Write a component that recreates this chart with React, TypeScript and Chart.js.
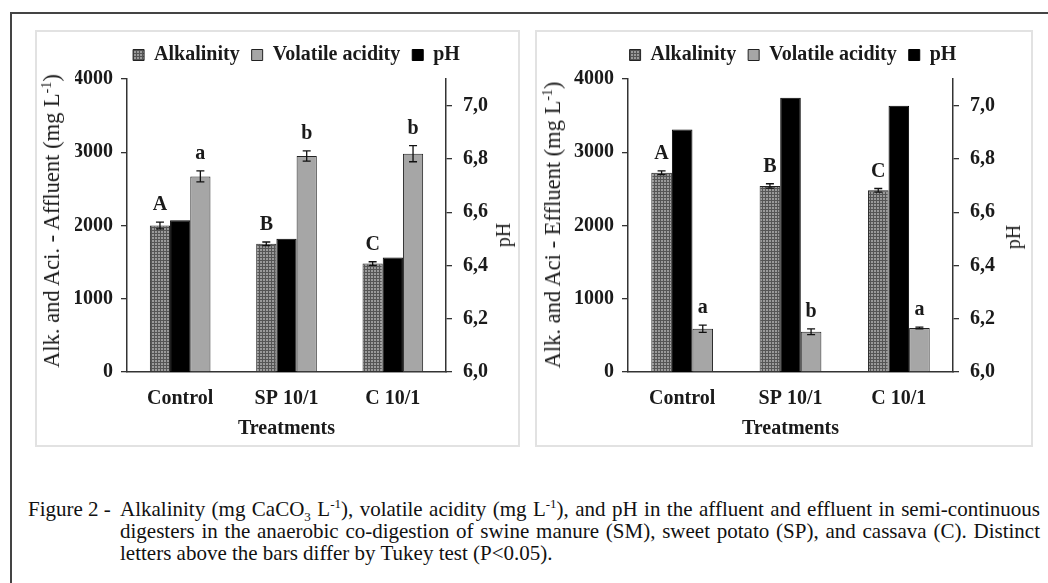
import React, { useEffect, useRef } from "react";
import { Chart, registerables } from "chart.js";
Chart.register(...registerables);

const SERIF = "'Liberation Serif', 'Times New Roman', serif";

const categories = ["Control", "SP 10/1", "C 10/1"];
const legendOrder = ["Alkalinity", "Volatile acidity", "pH"];

// Affluent (left panel)
const affAlkalinity = [2000, 1750, 1480];
const affAlkErr = [45, 25, 25];
const affVolatile = [2670, 2950, 2980];
const affVolErr = [75, 70, 110];
const affPH = [6.57, 6.5, 6.43];
const affAlkLetters = ["A", "B", "C"];
const affVolLetters = ["a", "b", "b"];

// Effluent (right panel)
const effAlkalinity = [2720, 2540, 2480];
const effAlkErr = [25, 30, 25];
const effVolatile = [590, 550, 600];
const effVolErr = [50, 40, 12];
const effPH = [6.91, 7.03, 7.0];
const effAlkLetters = ["A", "B", "C"];
const effVolLetters = ["a", "b", "a"];

const leftTicks = [0, 1000, 2000, 3000, 4000];
const phTicks = [6.0, 6.2, 6.4, 6.6, 6.8, 7.0];

function makePattern(): CanvasPattern | string {
  const c = document.createElement("canvas");
  c.width = 3;
  c.height = 3;
  const x = c.getContext("2d");
  if (!x) return "#888";
  x.fillStyle = "#9a9a9a";
  x.fillRect(0, 0, 3, 3);
  x.fillStyle = "#555555";
  x.fillRect(0, 0, 3, 1);
  x.fillRect(0, 0, 1, 3);
  return x.createPattern(c, "repeat") || "#888";
}

type PanelCfg = {
  alk: number[];
  alkErr: number[];
  vol: number[];
  volErr: number[];
  ph: number[];
  alkLetters: string[];
  volLetters: string[];
  padLeft: number;
  yWidth: number;
  y1Width: number;
};

const legendGap = {
  id: "legendGap",
  beforeLayout(chart: any) {
    const lg = chart.legend;
    if (lg && !lg._gapPatched) {
      const orig = lg.fit.bind(lg);
      lg.fit = () => {
        orig();
        lg.height += 4;
      };
      lg._gapPatched = true;
    }
  },
};

function makeAnnotPlugin(cfg: PanelCfg) {
  return {
    id: "annot",
    afterDatasetsDraw(chart: any) {
      const ctx: CanvasRenderingContext2D = chart.ctx;
      const y = chart.scales.y;
      const series = [
        { index: 0, values: cfg.alk, errors: cfg.alkErr, letters: cfg.alkLetters },
        { index: 2, values: cfg.vol, errors: cfg.volErr, letters: cfg.volLetters },
      ];
      ctx.save();
      series.forEach((s) => {
        const meta = chart.getDatasetMeta(s.index);
        meta.data.forEach((bar: any, i: number) => {
          const v = s.values[i];
          const e = s.errors[i];
          const top = y.getPixelForValue(v + e);
          const bot = y.getPixelForValue(v - e);
          ctx.strokeStyle = "#111";
          ctx.lineWidth = 1.3;
          ctx.beginPath();
          ctx.moveTo(bar.x, top);
          ctx.lineTo(bar.x, bot);
          ctx.moveTo(bar.x - 4, top);
          ctx.lineTo(bar.x + 4, top);
          ctx.moveTo(bar.x - 4, bot);
          ctx.lineTo(bar.x + 4, bot);
          ctx.stroke();
          ctx.fillStyle = "#1a1a1a";
          ctx.font = `bold 20px ${SERIF}`;
          ctx.textAlign = "center";
          ctx.textBaseline = "alphabetic";
          ctx.fillText(s.letters[i], bar.x, top - 12);
        });
      });
      ctx.restore();
    },
  };
}

function makeConfig(cfg: PanelCfg): any {
  const pattern = makePattern();
  const tickFont = { family: SERIF, size: 20, weight: "bold" as const };
  return {
    type: "bar",
    data: {
      labels: categories,
      datasets: [
        {
          label: "Alkalinity",
          data: cfg.alk,
          yAxisID: "y",
          backgroundColor: pattern,
          borderColor: "#222",
          borderWidth: 1,
        },
        {
          label: "pH",
          data: cfg.ph,
          yAxisID: "y1",
          backgroundColor: "#000",
          borderColor: "#000",
          borderWidth: 1,
        },
        {
          label: "Volatile acidity",
          data: cfg.vol,
          yAxisID: "y",
          backgroundColor: "#a6a6a6",
          borderColor: "#222",
          borderWidth: 1,
        },
      ],
    },
    options: {
      responsive: false,
      animation: false,
      devicePixelRatio: 1,
      categoryPercentage: 0.57,
      barPercentage: 1.0,
      layout: { padding: { left: cfg.padLeft, top: 1, right: 0, bottom: 0 } },
      plugins: {
        tooltip: { enabled: false },
        legend: {
          display: true,
          position: "top",
          align: "center",
          labels: {
            font: { family: SERIF, size: 20, weight: "bold" },
            color: "#1a1a1a",
            boxWidth: 11,
            boxHeight: 11,
            padding: 12,
            sort: (a: any, b: any) => legendOrder.indexOf(a.text) - legendOrder.indexOf(b.text),
          },
        },
      },
      scales: {
        x: {
          grid: { display: false, drawTicks: false },
          border: { display: true, color: "#333", width: 1.5 },
          ticks: { font: tickFont, color: "#1a1a1a", padding: 15 },
          title: {
            display: true,
            text: "Treatments",
            font: tickFont,
            color: "#1a1a1a",
            padding: { top: 0, bottom: 4 },
          },
          afterFit: (s: any) => {
            s.height = 73;
          },
        },
        y: {
          position: "left",
          min: 0,
          max: 4000,
          afterBuildTicks: (s: any) => {
            s.ticks = leftTicks.map((v) => ({ value: v }));
          },
          grid: { drawOnChartArea: false, drawTicks: true, tickLength: 6, color: "#333", lineWidth: 1.3 },
          border: { display: true, color: "#333", width: 1.5 },
          ticks: { font: tickFont, color: "#1a1a1a", padding: 8, callback: (v: any) => String(v) },
          afterFit: (s: any) => {
            s.width = cfg.yWidth;
          },
        },
        y1: {
          position: "right",
          min: 6.0,
          max: 7.1,
          afterBuildTicks: (s: any) => {
            s.ticks = phTicks.map((v) => ({ value: v }));
          },
          grid: { drawOnChartArea: false, drawTicks: true, tickLength: 6, color: "#333", lineWidth: 1.3 },
          border: { display: true, color: "#333", width: 1.5 },
          ticks: {
            font: tickFont,
            color: "#1a1a1a",
            padding: 11,
            callback: (v: any) => Number(v).toFixed(1).replace(".", ","),
          },
          afterFit: (s: any) => {
            s.width = cfg.y1Width;
          },
        },
      },
    },
    plugins: [legendGap, makeAnnotPlugin(cfg)],
  };
}

function RotLabel(props: { x: number; y: number; size: number; children: React.ReactNode }) {
  return (
    <div
      style={{
        position: "absolute",
        left: props.x,
        top: props.y,
        transform: "translate(-50%, -50%) rotate(-90deg)",
        whiteSpace: "nowrap",
        fontSize: props.size,
        lineHeight: "24px",
        color: "#1a1a1a",
      }}
    >
      {props.children}
    </div>
  );
}

export default function App() {
  const leftRef = useRef<HTMLCanvasElement>(null);
  const rightRef = useRef<HTMLCanvasElement>(null);

  useEffect(() => {
    const c1 = new Chart(
      leftRef.current as HTMLCanvasElement,
      makeConfig({
        alk: affAlkalinity,
        alkErr: affAlkErr,
        vol: affVolatile,
        volErr: affVolErr,
        ph: affPH,
        alkLetters: affAlkLetters,
        volLetters: affVolLetters,
        padLeft: 38,
        yWidth: 52,
        y1Width: 72,
      })
    );
    const c2 = new Chart(
      rightRef.current as HTMLCanvasElement,
      makeConfig({
        alk: effAlkalinity,
        alkErr: effAlkErr,
        vol: effVolatile,
        volErr: effVolErr,
        ph: effPH,
        alkLetters: effAlkLetters,
        volLetters: effVolLetters,
        padLeft: 18,
        yWidth: 73,
        y1Width: 78,
      })
    );
    return () => {
      c1.destroy();
      c2.destroy();
    };
  }, []);

  const subStyle: React.CSSProperties = { fontSize: "0.62em", lineHeight: 0 };
  const lineStyle: React.CSSProperties = {
    position: "absolute",
    left: 120,
    width: 920,
    fontSize: 21,
    lineHeight: "22px",
    whiteSpace: "nowrap",
    color: "#111",
  };

  return (
    <div
      style={{
        position: "fixed",
        left: 0,
        top: 0,
        width: 1048,
        height: 583,
        background: "#fff",
        overflow: "hidden",
        fontFamily: SERIF,
      }}
    >
      <div
        style={{
          position: "absolute",
          left: 10,
          top: 12,
          width: 2000,
          height: 2000,
          borderTop: "2px solid #444",
          borderLeft: "2px solid #444",
        }}
      />
      <div
        style={{
          position: "absolute",
          left: 35,
          top: 30,
          width: 485,
          height: 417,
          border: "2px solid #e2e2e2",
          boxSizing: "border-box",
        }}
      />
      <div
        style={{
          position: "absolute",
          left: 535,
          top: 30,
          width: 498,
          height: 417,
          border: "2px solid #e2e2e2",
          boxSizing: "border-box",
        }}
      />
      <canvas
        ref={leftRef}
        width={481}
        height={413}
        style={{ position: "absolute", left: 37, top: 32, width: 481, height: 413 }}
      />
      <canvas
        ref={rightRef}
        width={494}
        height={413}
        style={{ position: "absolute", left: 537, top: 32, width: 494, height: 413 }}
      />

      <RotLabel x={52} y={221} size={22.5}>
        Alk. and Aci. - Affluent (mg L<sup style={subStyle}>-1</sup>)
      </RotLabel>
      <RotLabel x={503} y={235} size={20}>
        pH
      </RotLabel>
      <RotLabel x={553} y={225} size={22.5}>
        Alk. and Aci - Effluent (mg L<sup style={subStyle}>-1</sup>)
      </RotLabel>
      <RotLabel x={1013} y={237} size={20}>
        pH
      </RotLabel>

      <div style={{ ...lineStyle, left: 28, width: 90, top: 498 }}>Figure 2 -</div>
      <div style={{ ...lineStyle, top: 498, textAlign: "justify", textAlignLast: "justify" }}>
        Alkalinity (mg CaCO<sub style={subStyle}>3</sub> L<sup style={subStyle}>-1</sup>), volatile acidity (mg L
        <sup style={subStyle}>-1</sup>), and pH in the affluent and effluent in semi-continuous
      </div>
      <div style={{ ...lineStyle, top: 520, textAlign: "justify", textAlignLast: "justify" }}>
        digesters in the anaerobic co-digestion of swine manure (SM), sweet potato (SP), and cassava (C). Distinct
      </div>
      <div style={{ ...lineStyle, top: 542 }}>letters above the bars differ by Tukey test (P&lt;0.05).</div>
    </div>
  );
}
